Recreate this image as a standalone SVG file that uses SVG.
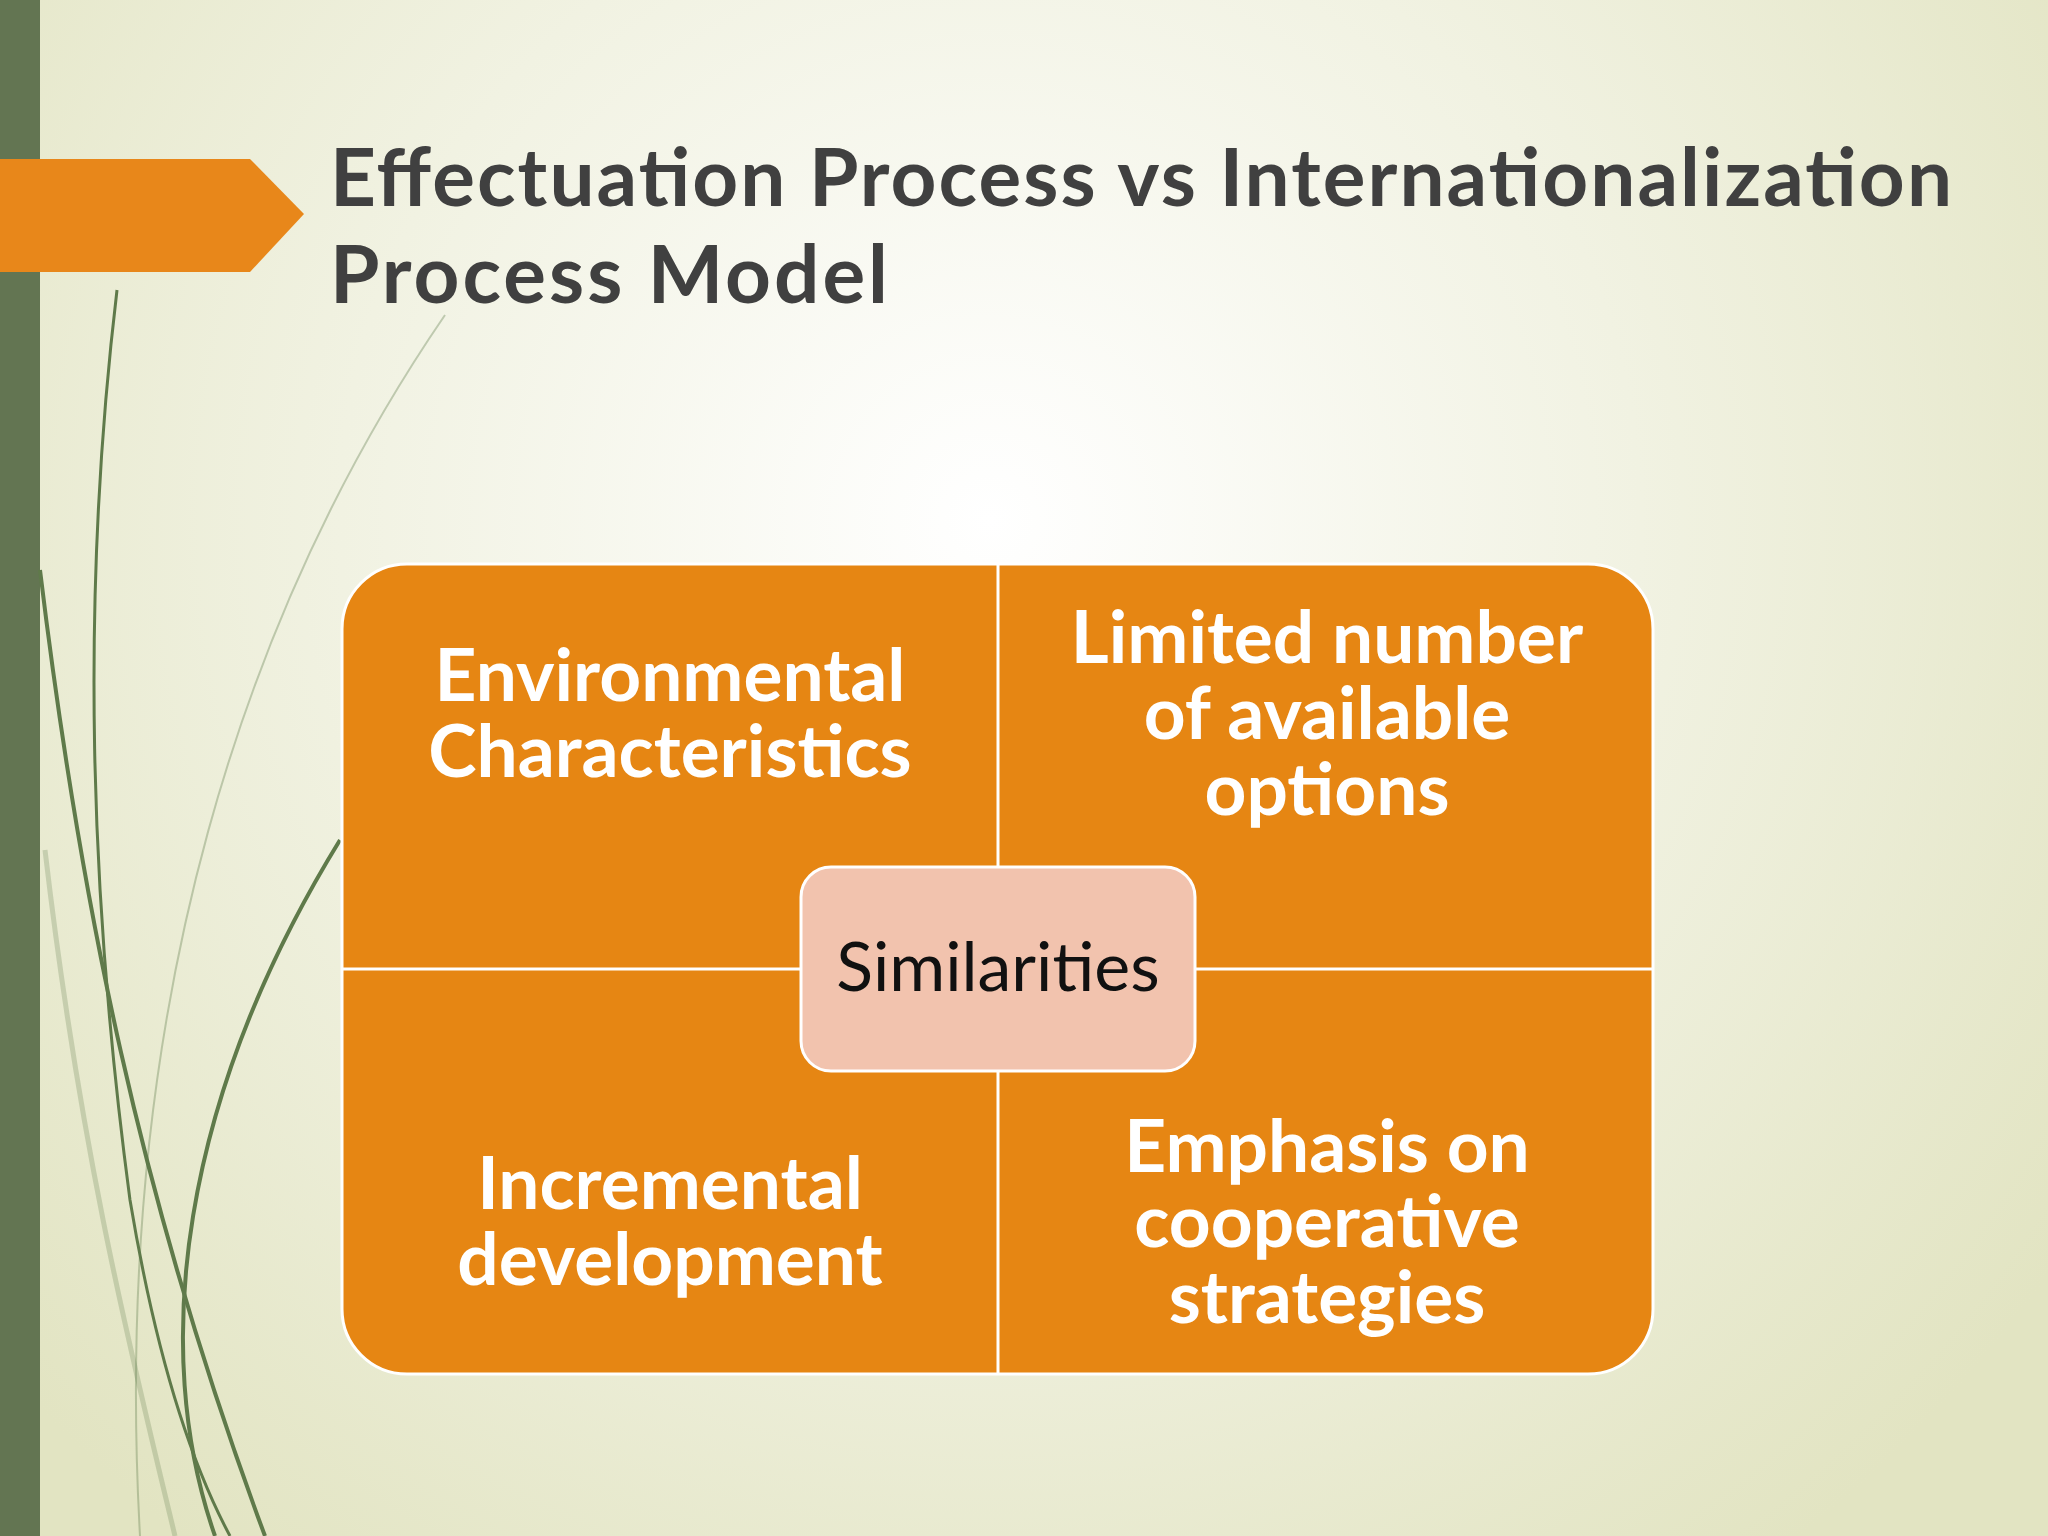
<svg xmlns="http://www.w3.org/2000/svg" width="2048" height="1536" viewBox="0 0 2048 1536">
<defs>
<radialGradient id="bg" cx="990" cy="520" r="1300" gradientUnits="userSpaceOnUse">
<stop offset="0" stop-color="#ffffff"/>
<stop offset="0.5" stop-color="#f1f2e2"/>
<stop offset="1" stop-color="#e2e4c2"/>
</radialGradient>
<style>
.q{font-family:"Century Gothic","URW Gothic","Lato","Liberation Sans",sans-serif;font-weight:bold;font-size:73px;fill:#ffffff;text-anchor:middle}
.t{font-family:"Century Gothic","URW Gothic","Lato","Liberation Sans",sans-serif;font-weight:bold;font-size:80px;fill:#404040}
.div{stroke:#ffffff;stroke-width:3}
.g{fill:none;stroke:#5f7a4a}
</style>
</defs>
<rect width="2048" height="1536" fill="url(#bg)"/>
<g id="decor">
<rect x="0" y="0" width="40" height="1536" fill="#637552"/>
<path d="M0 159 H250 L304 214 L250 272 H0 Z" fill="#e8871a"/>
<path class="g" stroke-width="3" d="M117 290 C80 600 90 900 130 1200 C160 1380 200 1480 230 1536"/>
<path class="g" stroke-width="4" d="M40 570 C80 900 140 1200 265 1536"/>
<path class="g" stroke-width="4" d="M340 840 C180 1100 150 1350 215 1536"/>
<path class="g" stroke-width="2" stroke-opacity="0.35" d="M445 315 C250 600 110 1000 140 1536"/>
<path class="g" stroke-width="5" stroke-opacity="0.25" d="M45 850 C80 1150 130 1350 175 1536"/>
</g>
<g id="title">
<text class="t" x="330" y="206" textLength="1622" lengthAdjust="spacing">Effectuation Process vs Internationalization</text>
<text class="t" x="330" y="303" textLength="558" lengthAdjust="spacing">Process Model</text>
</g>
<g id="grid">
<rect x="342" y="564" width="1311" height="810" rx="65" fill="#e68613" stroke="#ffffff" stroke-width="3"/>
</g>
<g id="connectors">
<line class="div" x1="998" y1="564" x2="998" y2="1374"/>
<line class="div" x1="342" y1="969" x2="1653" y2="969"/>
</g>
<g id="tl"><text class="q" x="670" y="701">Environmental</text><text class="q" x="670" y="777">Characteristics</text></g>
<g id="tr"><text class="q" x="1327" y="663">Limited number</text><text class="q" x="1327" y="739">of available</text><text class="q" x="1327" y="815">options</text></g>
<g id="bl"><text class="q" x="670" y="1209">Incremental</text><text class="q" x="670" y="1285">development</text></g>
<g id="br"><text class="q" x="1327" y="1172">Emphasis on</text><text class="q" x="1327" y="1247">cooperative</text><text class="q" x="1327" y="1323">strategies</text></g>
<g id="center">
<rect x="801" y="867" width="394" height="204" rx="30" fill="#f2c3ae" stroke="#ffffff" stroke-width="3"/>
<text x="998" y="991" font-family="Century Gothic,URW Gothic,Lato,Liberation Sans,sans-serif" font-size="68" fill="#111111" text-anchor="middle">Similarities</text>
</g>
</svg>
